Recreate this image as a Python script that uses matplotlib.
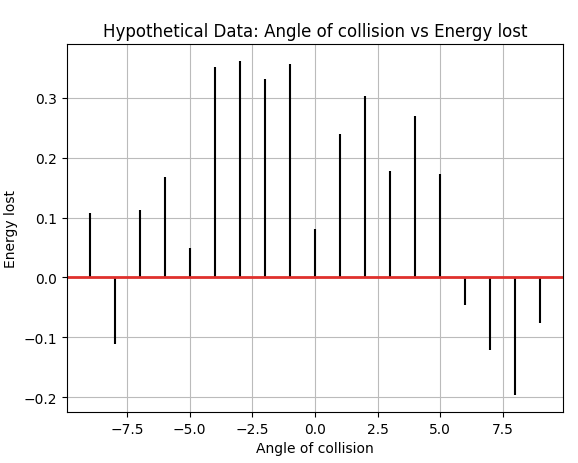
import numpy as np
import matplotlib
matplotlib.use("Agg")
import matplotlib.pyplot as plt

# angle of collision (x) and energy lost (y)
angles = [-9, -8, -7, -6, -5, -4, -3, -2, -1, 0, 1, 2, 3, 4, 5, 6, 7, 8, 9]
energy_lost = [0.107, -0.112, 0.112, 0.167, 0.049, 0.352, 0.362, 0.331, 0.357,
               0.081, 0.240, 0.303, 0.177, 0.269, 0.172, -0.046, -0.121, -0.197, -0.076]

fig, ax = plt.subplots(figsize=(5.78, 4.64), dpi=100)
ax.vlines(angles, 0, energy_lost, colors='black', linewidth=1.5)
ax.axhline(0, color='#e0302c', linewidth=2)
ax.set_title('Hypothetical Data: Angle of collision vs Energy lost')
ax.set_xlabel('Angle of collision')
ax.set_ylabel('Energy lost')
ax.grid(True, color='#bbbbbb')
ax.set_axisbelow(True)
fig.subplots_adjust(left=0.116, right=0.974, top=0.903, bottom=0.110)
fig.savefig('out.png')
